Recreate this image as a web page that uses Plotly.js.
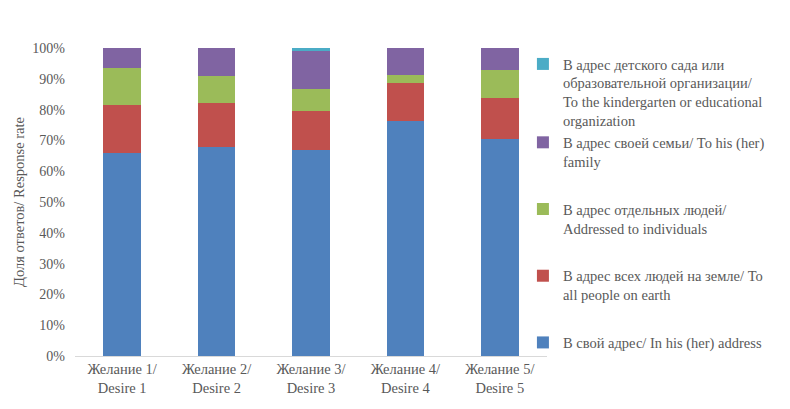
<!DOCTYPE html>
<html><head><meta charset="utf-8">
<script src="https://cdn.plot.ly/plotly-3.0.1.min.js"></script>
<style>html,body{margin:0;padding:0;background:#fff}#chart{width:790px;height:409px}</style>
</head><body><div id="chart"></div>
<script>
const categories = ["Желание 1/<br>Desire 1","Желание 2/<br>Desire 2","Желание 3/<br>Desire 3","Желание 4/<br>Desire 4","Желание 5/<br>Desire 5"];
const ownAddress = [65.9, 67.9, 67.0, 76.3, 70.5];
const allPeople = [15.6, 14.2, 12.5, 12.3, 13.3];
const individuals = [12.0, 8.8, 7.2, 2.6, 9.1];
const family = [6.5, 9.1, 12.3, 8.8, 7.1];
const kindergarten = [0, 0, 1.0, 0, 0];
const seriesNames = [
  "В свой адрес/ In his (her) address",
  "В адрес всех людей на земле/ To<br>all people on earth",
  "В адрес отдельных людей/<br>Addressed to individuals",
  "В адрес своей семьи/ To his (her)<br>family",
  "В адрес детского сада или<br>образовательной организации/<br>To the kindergarten or educational<br>organization"
];
const colors = ["#4F81BD","#C0504D","#9BBB59","#8064A2","#4BACC6"];
const groups = ["d","c","b","a","a"];
const ranks = [5,4,3,2,1];
const values = [ownAddress, allPeople, individuals, family, kindergarten];
const FONT = "Liberation Serif, Times New Roman, serif";
const traces = values.map((v,i)=>({
  type:"bar", x:categories, y:v, name:seriesNames[i], legendgroup:groups[i], legendrank:ranks[i],
  marker:{color:colors[i]}, hoverinfo:"y+name"
}));
const layout = {
  width:790, height:409, barmode:"stack", bargap:0.6,
  margin:{l:75,r:243,t:48,b:53},
  paper_bgcolor:"#fff", plot_bgcolor:"#fff",
  font:{family:FONT, size:14, color:"#595959"},
  xaxis:{showline:true, linecolor:"#d9d9d9", linewidth:1, ticks:"", tickfont:{family:FONT,size:14.5,color:"#595959"}},
  yaxis:{range:[0,100], dtick:10, ticksuffix:"%", showgrid:false, zeroline:false, showline:false, ticks:"",
    ticklabelstandoff:9, tickfont:{family:FONT,size:14,color:"#595959"},
    title:{text:"Доля ответов/ Response rate", font:{family:FONT,size:14.5,color:"#595959"}, standoff:4}},
  legend:{x:0.949, xanchor:"left", y:1.0, yanchor:"top", traceorder:"grouped", tracegroupgap:26, valign:"top",
    font:{family:FONT,size:14.5,color:"#595959"}, itemwidth:30, bgcolor:"rgba(0,0,0,0)"},
  showlegend:true
};
Plotly.newPlot("chart", traces, layout, {displayModeBar:false, staticPlot:true});
</script></body></html>
